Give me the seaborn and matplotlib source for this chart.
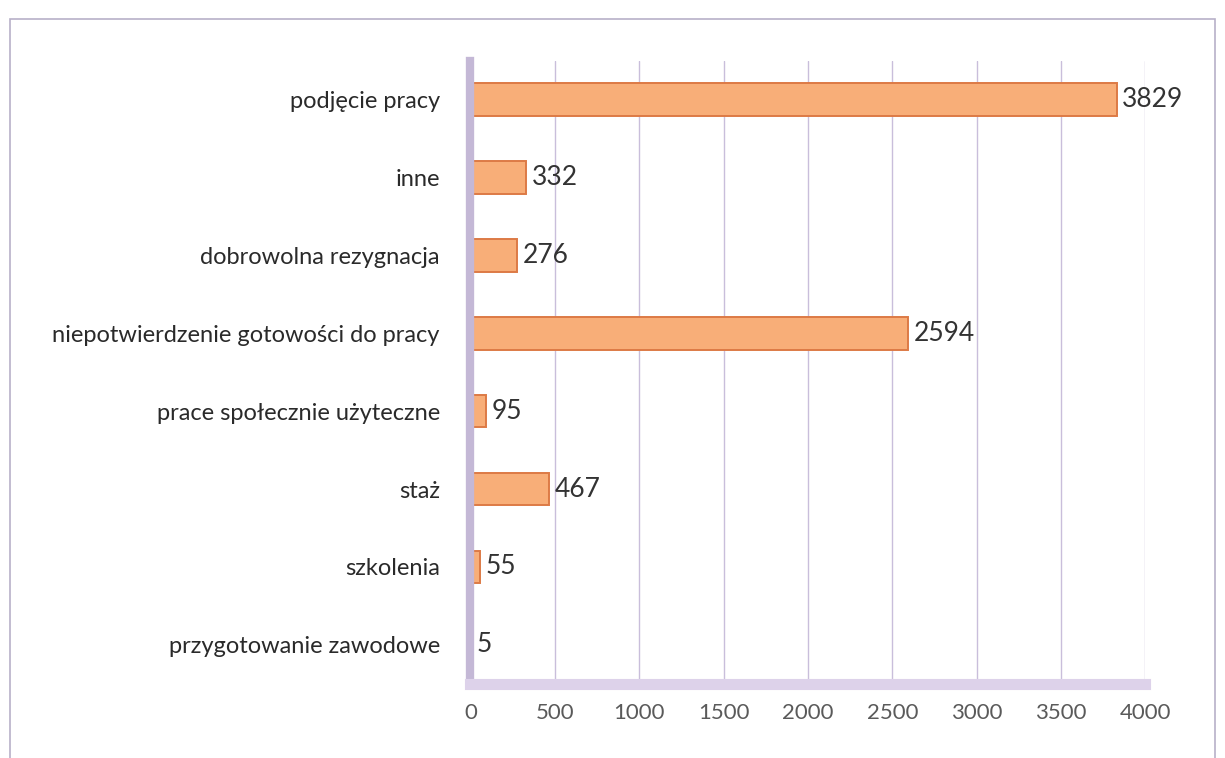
import matplotlib.pyplot as plt
import matplotlib.patches as mpatches
import pandas as pd
import seaborn as sns

categories = [
    "podjęcie pracy",
    "inne",
    "dobrowolna rezygnacja",
    "niepotwierdzenie gotowości do pracy",
    "prace społecznie użyteczne",
    "staż",
    "szkolenia",
    "przygotowanie zawodowe",
]
values = [3829, 332, 276, 2594, 95, 467, 55, 5]
x_ticks = [0, 500, 1000, 1500, 2000, 2500, 3000, 3500, 4000]

sns.set_theme(style="white")
plt.rcParams["font.family"] = ["Lato", "DejaVu Sans"]

df = pd.DataFrame({"kategoria": categories, "liczba": values})

fig = plt.figure(figsize=(12.25, 7.58), dpi=100)
ax = fig.add_axes([0.384, 0.098, 0.551, 0.822])

# outer chart frame like the Excel chart area
fig.patches.append(mpatches.Rectangle((0.008, -0.01), 0.984, 0.985, transform=fig.transFigure,
                                      fill=False, edgecolor="#b8b0c8", linewidth=1.2))

sns.barplot(data=df, x="liczba", y="kategoria", orient="h", ax=ax, saturation=1,
            color="#f8ae78", edgecolor="#dd7a45", linewidth=1.4, width=0.42)

ax.bar_label(ax.containers[0], labels=[str(v) for v in values], padding=4,
             fontsize=19, color="#333333")

ax.set_xlim(0, 4000)
ax.set_xticks(x_ticks)
ax.set_xticklabels([str(t) for t in x_ticks], fontsize=16, color="#5a5a5a")
ax.tick_params(axis="x", pad=14, length=0)
ax.tick_params(axis="y", labelsize=17, labelcolor="#2a2a2a", pad=22, length=0)
ax.set_xlabel("")
ax.set_ylabel("")

ax.grid(axis="x", color="#c9bedb", linewidth=1)
ax.set_axisbelow(True)
for side in ["top", "right"]:
    ax.spines[side].set_visible(False)
ax.spines["left"].set_color("#c4b8d6")
ax.spines["left"].set_linewidth(6)
ax.spines["bottom"].set_color("#ddd2ea")
ax.spines["bottom"].set_linewidth(8)

plt.savefig("out.png", dpi=100)
plt.close()
